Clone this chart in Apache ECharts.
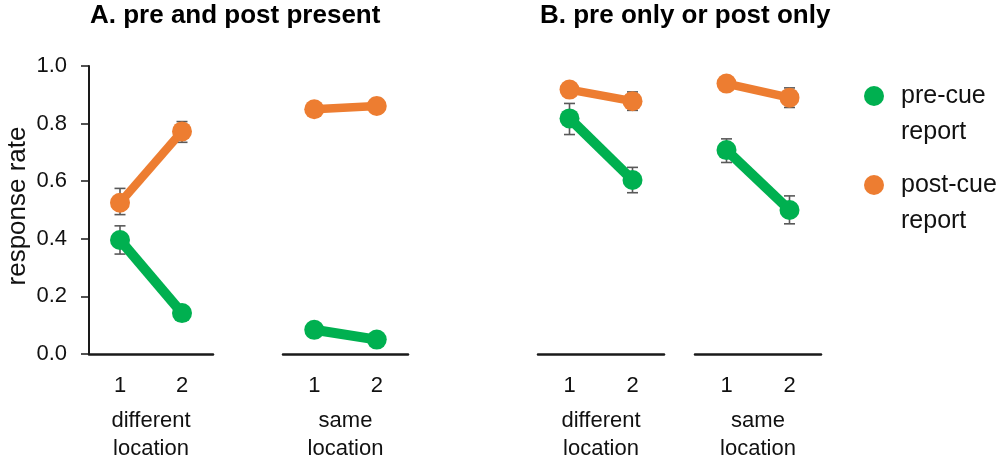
<!DOCTYPE html>
<html>
<head>
<meta charset="utf-8">
<script src="https://cdn.jsdelivr.net/npm/echarts@6/dist/echarts.min.js"></script>
<style>html,body{margin:0;padding:0;background:#fff}#c{width:1003px;height:461px}</style>
</head>
<body>
<div id="c"></div>
<script>
// ---- data ----
const conditions = ['1', '2'];
const panelTitles = ['A. pre and post present', 'B. pre only or post only'];
const panelNames = ['different\nlocation', 'same\nlocation', 'different\nlocation', 'same\nlocation'];
const yTicks = [0, 0.2, 0.4, 0.6, 0.8, 1.0];
const seriesNames = ['pre-cue report', 'post-cue report'];

// panels: A-different, A-same, B-different, B-same
const preCue = [
  [0.396, 0.142],
  [0.084, 0.050],
  [0.818, 0.604],
  [0.708, 0.500]
];
const preCueErr = [
  [[0.347, 0.445], [0.127, 0.157]],
  [[0.070, 0.098], [0.038, 0.062]],
  [[0.762, 0.870], [0.560, 0.648]],
  [[0.665, 0.747], [0.452, 0.549]]
];
const postCue = [
  [0.525, 0.773],
  [0.850, 0.861],
  [0.918, 0.878],
  [0.939, 0.890]
];
const postCueErr = [
  [[0.484, 0.575], [0.735, 0.807]],
  [[0.835, 0.865], [0.836, 0.887]],
  [[0.898, 0.938], [0.846, 0.910]],
  [[0.919, 0.959], [0.856, 0.924]]
];

// ---- styling ----
const FONT = "'Liberation Sans', Arial, sans-serif";
const GREEN = '#00B050';
const ORANGE = '#ED7D31';
const ERR = '#595959';
const gridBoxes = [
  {left: 89, width: 124},
  {left: 283, width: 125},
  {left: 538, width: 126},
  {left: 695, width: 126}
];

const grids = gridBoxes.map(g => ({left: g.left, width: g.width, top: 66, height: 288, containLabel: false, outerBoundsMode: 'none'}));
const xAxes = gridBoxes.map((g, i) => ({
  type: 'category', gridIndex: i, data: conditions, boundaryGap: true,
  axisLine: {lineStyle: {color: '#1a1a1a', width: 2.5}},
  axisTick: {show: false},
  axisLabel: {color: '#111', fontFamily: FONT, fontSize: 22, margin: 21},
  name: panelNames[i], nameLocation: 'middle', nameGap: 53,
  nameTextStyle: {color: '#111', fontFamily: FONT, fontSize: 22, lineHeight: 28}
}));
const yAxes = gridBoxes.map((g, i) => ({
  type: 'value', gridIndex: i, min: 0, max: 1, interval: 0.2,
  show: i === 0,
  splitLine: {show: false},
  axisLine: {show: true, lineStyle: {color: '#1a1a1a', width: 2}},
  axisTick: {show: true, length: 8, lineStyle: {color: '#1a1a1a', width: 1.5}},
  axisLabel: {color: '#111', fontFamily: FONT, fontSize: 22, margin: 22,
    formatter: v => yTicks.includes(+v.toFixed(1)) ? v.toFixed(1) : ''},
  name: i === 0 ? 'response rate' : '', nameLocation: 'middle', nameGap: 58,
  nameTextStyle: {color: '#111', fontFamily: FONT, fontSize: 26, padding: [0, 0, 0, 8]}
}));

function errSeries(name, errs, i) {
  return {
    type: 'custom', name: name, xAxisIndex: i, yAxisIndex: i, z: 1, silent: true,
    data: errs.map((e, k) => [k, e[0], e[1]]),
    renderItem: (params, api) => {
      const lo = api.coord([api.value(0), api.value(1)]);
      const hi = api.coord([api.value(0), api.value(2)]);
      const w = 5.5;
      const st = {stroke: ERR, lineWidth: 1.6};
      return {type: 'group', children: [
        {type: 'line', shape: {x1: lo[0], y1: lo[1], x2: hi[0], y2: hi[1]}, style: st},
        {type: 'line', shape: {x1: lo[0] - w, y1: lo[1], x2: lo[0] + w, y2: lo[1]}, style: st},
        {type: 'line', shape: {x1: hi[0] - w, y1: hi[1], x2: hi[0] + w, y2: hi[1]}, style: st}
      ]};
    }
  };
}
function lineSeries(name, vals, i, color, width) {
  return {
    type: 'line', name: name, xAxisIndex: i, yAxisIndex: i, z: 3,
    data: vals, symbol: 'circle', symbolSize: 20, showSymbol: true,
    itemStyle: {color: color}, lineStyle: {color: color, width: width},
    emphasis: {disabled: true}
  };
}
const series = [];
for (let i = 0; i < 4; i++) {
  series.push(errSeries(seriesNames[0], preCueErr[i], i));
  series.push(errSeries(seriesNames[1], postCueErr[i], i));
  series.push(lineSeries(seriesNames[0], preCue[i], i, GREEN, 10));
  series.push(lineSeries(seriesNames[1], postCue[i], i, ORANGE, 8.5));
}

const legendCommon = {
  orient: 'vertical', left: 864, padding: 0, itemWidth: 20, itemHeight: 20, icon: 'circle',
  selectedMode: false,
  formatter: n => '\n' + n.replace(' ', '\n'),
  textStyle: {color: '#111', fontFamily: FONT, fontSize: 25, lineHeight: 36, padding: [0, 0, 0, 12]}
};

const option = {
  animation: false,
  backgroundColor: '#fff',
  title: [
    {text: panelTitles[0], left: 85, top: -2, textStyle: {fontFamily: FONT, fontWeight: 'bold', fontSize: 26, color: '#000'}},
    {text: panelTitles[1], left: 535, top: -2, textStyle: {fontFamily: FONT, fontWeight: 'bold', fontSize: 26, color: '#000'}}
  ],
  legend: [
    Object.assign({}, legendCommon, {top: 42, data: [{name: seriesNames[0], itemStyle: {color: GREEN}}]}),
    Object.assign({}, legendCommon, {top: 131, data: [{name: seriesNames[1], itemStyle: {color: ORANGE}}]})
  ],
  grid: grids,
  xAxis: xAxes,
  yAxis: yAxes,
  series: series
};
const chart = echarts.init(document.getElementById('c'), null, {renderer: 'canvas'});
chart.setOption(option);
</script>
</body>
</html>
